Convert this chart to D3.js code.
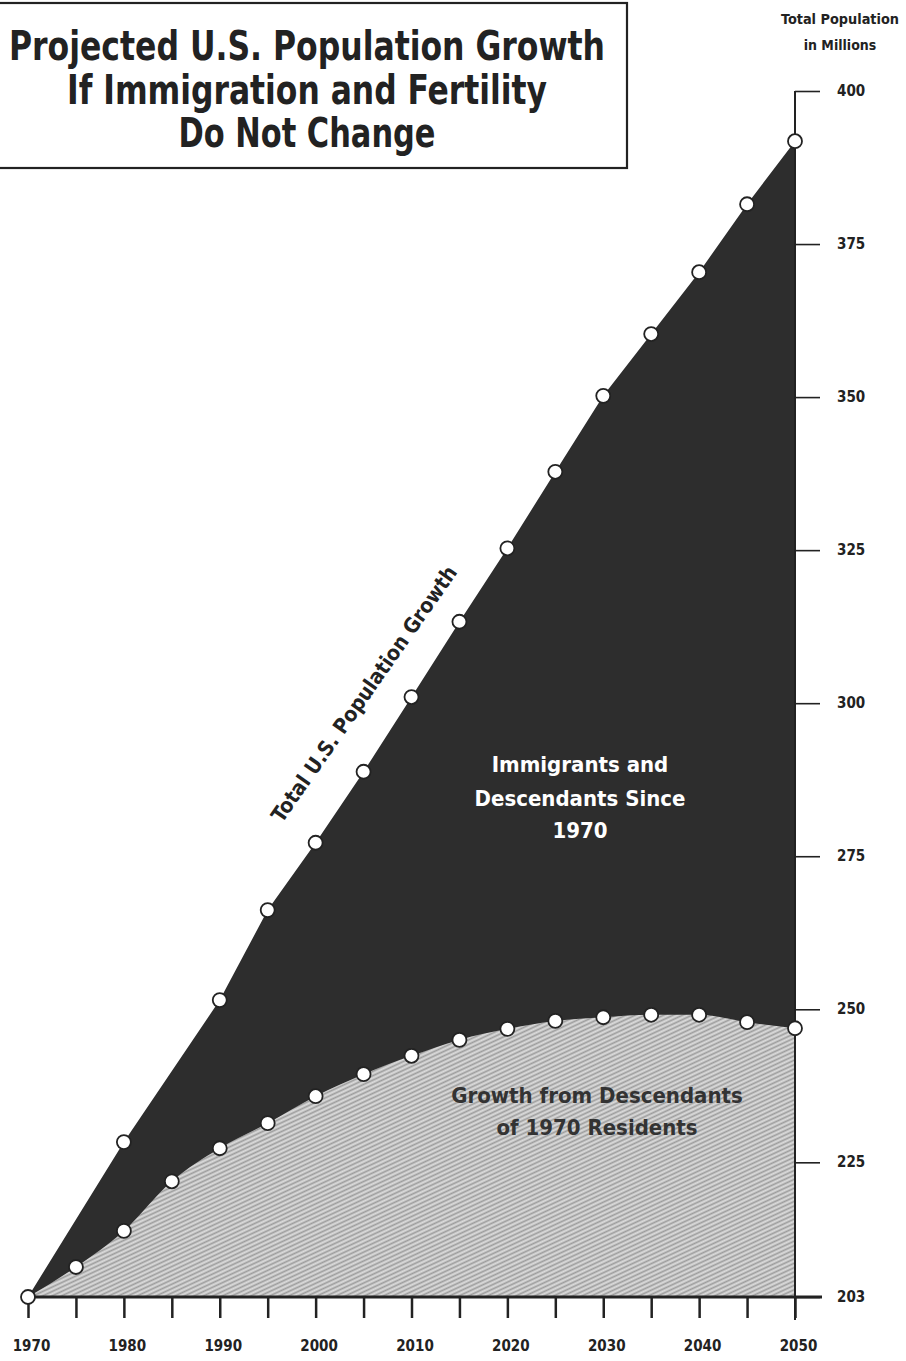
<!DOCTYPE html>
<html>
<head>
<meta charset="utf-8">
<script src="https://cdn.jsdelivr.net/npm/d3@7"></script>
<style>
  html, body { margin: 0; padding: 0; background: #fff; }
  svg { display: block; }
  text { font-family: "Liberation Sans Narrow", "DejaVu Sans Condensed", "Roboto", sans-serif; font-weight: bold; }
</style>
</head>
<body>
<svg id="chart" width="906" height="1361"></svg>
<script>
// ---- data ----
const titleLines = ["Projected U.S. Population Growth", "If Immigration and Fertility", "Do Not Change"];
const axisTitleLines = ["Total Population", "in Millions"];
const totalYears  = [1970, 1980, 1990, 1995, 2000, 2005, 2010, 2015, 2020, 2025, 2030, 2035, 2040, 2045, 2050];
const totalValues = [203, 228.3, 251.5, 266.2, 277.2, 288.8, 301.0, 313.3, 325.3, 337.8, 350.2, 360.3, 370.4, 381.5, 391.8];
const residentYears  = [1970, 1975, 1980, 1985, 1990, 1995, 2000, 2005, 2010, 2015, 2020, 2025, 2030, 2035, 2040, 2045, 2050];
const residentValues = [203, 207.9, 213.8, 221.9, 227.3, 231.4, 235.8, 239.4, 242.4, 245.0, 246.8, 248.1, 248.7, 249.1, 249.1, 247.9, 246.9];
const xTickYears  = d3.range(1970, 2051, 5);
const xLabelYears = [1970, 1980, 1990, 2000, 2010, 2020, 2030, 2040, 2050];
const yTickValues = [203, 225, 250, 275, 300, 325, 350, 375, 400];
const immigrantLabel = ["Immigrants and", "Descendants Since", "1970"];
const residentLabel  = ["Growth from Descendants", "of 1970 Residents"];
const lineLabel = "Total U.S. Population Growth";

// ---- scales ----
const x = d3.scaleLinear().domain([1970, 2050]).range([28, 795]);
const y = d3.scaleLinear().domain([203, 400]).range([1297, 91]);

const svg = d3.select("#chart");
const ink = "#222";

// texture pattern for lower area
const defs = svg.append("defs");
const pat = defs.append("pattern")
  .attr("id", "tex").attr("patternUnits", "userSpaceOnUse")
  .attr("width", 4).attr("height", 4)
  .attr("patternTransform", "rotate(65)");
pat.append("rect").attr("width", 4).attr("height", 4).attr("fill", "#c2c2c2");
pat.append("rect").attr("x", 0).attr("y", 0).attr("width", 1).attr("height", 4).attr("fill", "#9c9c9c");
pat.append("rect").attr("x", 2).attr("y", 0).attr("width", 1).attr("height", 4).attr("fill", "#dcdcdc");

const totalData = totalYears.map((yr, i) => ({ yr, v: totalValues[i] }));
const resData = residentYears.map((yr, i) => ({ yr, v: residentValues[i] }));

// dark area (total)
const areaTotal = d3.area().x(d => x(d.yr)).y0(y(203)).y1(d => y(d.v)).curve(d3.curveLinear);
svg.append("path").datum(totalData).attr("d", areaTotal).attr("fill", "#2d2d2d");

// lower textured area
const areaRes = d3.area().x(d => x(d.yr)).y0(y(203)).y1(d => y(d.v)).curve(d3.curveMonotoneX);
svg.append("path").datum(resData).attr("d", areaRes).attr("fill", "url(#tex)");

// right axis line
svg.append("line").attr("x1", x(2050)).attr("x2", x(2050)).attr("y1", y(400)).attr("y2", 1320)
  .attr("stroke", ink).attr("stroke-width", 2);
// bottom axis line
svg.append("line").attr("x1", x(1970)).attr("x2", 822).attr("y1", y(203)).attr("y2", y(203))
  .attr("stroke", ink).attr("stroke-width", 3);

// x axis ticks (d3 axis)
const xAxis = d3.axisBottom(x).tickValues(xTickYears).tickSize(21).tickFormat(d => xLabelYears.includes(d) ? d : "").tickPadding(22);
const gx = svg.append("g").attr("transform", `translate(0,${y(203)})`).call(xAxis);
gx.select(".domain").remove();
gx.selectAll(".tick line").attr("stroke", ink).attr("stroke-width", 2.5);
gx.selectAll(".tick text").attr("fill", ink).style("font-size", "15px").attr("dx", 3);

// y axis ticks on right
const yAxis = d3.axisRight(y).tickValues(yTickValues).tickSize(25).tickPadding(17).tickFormat(d => d);
const gy = svg.append("g").attr("transform", `translate(${x(2050)},0)`).call(yAxis);
gy.select(".domain").remove();
gy.selectAll(".tick line").attr("stroke", ink).attr("stroke-width", 1.6);
gy.selectAll(".tick text").attr("fill", ink).style("font-size", "15px").attr("dy", "0.3em");

// axis title
svg.append("text").attr("x", 840).attr("y", 24).attr("text-anchor", "middle").attr("fill", ink)
  .style("font-size", "14px").attr("textLength", 118).attr("lengthAdjust", "spacingAndGlyphs").text(axisTitleLines[0]);
svg.append("text").attr("x", 840).attr("y", 50).attr("text-anchor", "middle").attr("fill", ink)
  .style("font-size", "14px").text(axisTitleLines[1]);

// markers
function markers(data) {
  svg.append("g").selectAll("circle").data(data).join("circle")
    .attr("cx", d => x(d.yr)).attr("cy", d => y(d.v)).attr("r", 7)
    .attr("fill", "#fff").attr("stroke", ink).attr("stroke-width", 1.8);
}
markers(resData.slice(1));
markers(totalData);

// title box
svg.append("rect").attr("x", -2).attr("y", 3).attr("width", 629).attr("height", 165)
  .attr("fill", "#fff").attr("stroke", ink).attr("stroke-width", 2.2);
const titleY = [60, 104, 147];
const titleW = [596, 480, 257];
titleLines.forEach((t, i) => {
  svg.append("text").attr("x", 307).attr("y", titleY[i]).attr("text-anchor", "middle")
    .attr("fill", ink).style("font-size", "40px")
    .attr("textLength", titleW[i]).attr("lengthAdjust", "spacingAndGlyphs").text(t);
});

// in-area labels
const immY = [772, 806, 838];
immigrantLabel.forEach((t, i) => {
  svg.append("text").attr("x", 580).attr("y", immY[i]).attr("text-anchor", "middle")
    .attr("fill", "#fff").style("font-size", "22px").text(t);
});
const resY = [1103, 1135];
residentLabel.forEach((t, i) => {
  svg.append("text").attr("x", 597).attr("y", resY[i]).attr("text-anchor", "middle")
    .attr("fill", "#333").style("font-size", "22px").text(t);
});

// rotated line label
svg.append("text").attr("transform", "translate(370,698) rotate(-55)")
  .attr("text-anchor", "middle").attr("fill", ink).style("font-size", "21px")
  .text(lineLabel);
</script>
</body>
</html>
